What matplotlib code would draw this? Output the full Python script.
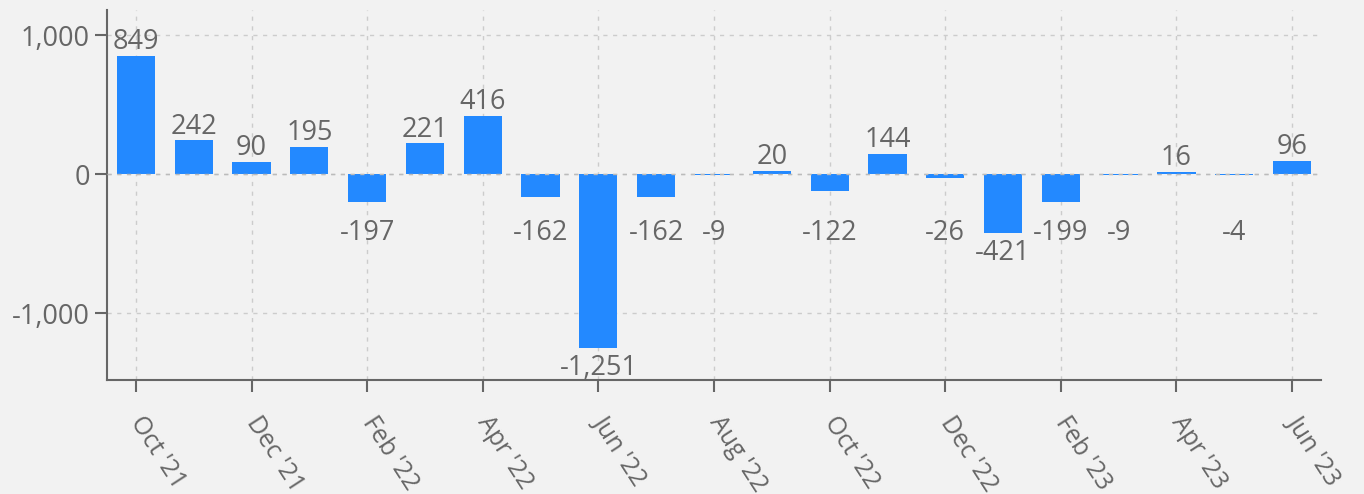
import matplotlib
matplotlib.use("Agg")
from matplotlib import pyplot as plt

months = ["Oct '21", "Nov '21", "Dec '21", "Jan '22", "Feb '22", "Mar '22", "Apr '22",
          "May '22", "Jun '22", "Jul '22", "Aug '22", "Sep '22", "Oct '22", "Nov '22",
          "Dec '22", "Jan '23", "Feb '23", "Mar '23", "Apr '23", "May '23", "Jun '23"]
values = [849, 242, 90, 195, -197, 221, 416, -162, -1251, -162, -9, 20, -122, 144,
          -26, -421, -199, -9, 16, -4, 96]
yticks = [-1000, 0, 1000]

bg = "#f2f2f2"
txt = "#666666"
blue = "#2389ff"

plt.rcParams['font.family'] = ['Open Sans', 'DejaVu Sans']

fig = plt.figure(figsize=(13.64, 4.94), dpi=100, facecolor=bg)
ax = fig.add_axes([107 / 1364, 1 - 380 / 494, (1321 - 107) / 1364, 370 / 494])
ax.set_facecolor(bg)

x = list(range(len(values)))
ax.bar(x, values, width=0.66, color=blue, zorder=2)

# value labels
for i, v in enumerate(values):
    lab = f"{v:,}"
    if v >= 0:
        ax.annotate(lab, (i, v), xytext=(0, 10), textcoords="offset points",
                    ha="center", va="center", fontsize=19.5, color=txt, zorder=4)
    else:
        ax.annotate(lab, (i, min(v, -280)), xytext=(0, -14.3), textcoords="offset points",
                    ha="center", va="center", fontsize=19.5, color=txt, zorder=4)

ax.set_xlim(-0.5, 20.5)
ax.set_ylim(-1480, 1180)

ax.set_yticks(yticks)
ax.set_yticklabels([f"{t:,}" for t in yticks])
ax.set_xticks(x[::2])
ax.set_xticklabels(months[::2], rotation=-57, ha="left", va="center",
                   rotation_mode="anchor")

ax.tick_params(axis="both", colors=txt, labelcolor=txt, labelsize=19.5,
               length=8.5, width=1.5)
ax.tick_params(axis="x", pad=19, labelsize=18)
ax.tick_params(axis="y", pad=4)

ax.grid(True, color="#cccccc", linestyle=(0, (3, 4)), linewidth=1, zorder=0)
ax.set_axisbelow(True)
ax.axhline(0, color="#bbbbbb", linestyle=(0, (3, 4)), linewidth=1, zorder=3)

for s in ["top", "right"]:
    ax.spines[s].set_visible(False)
for s in ["left", "bottom"]:
    ax.spines[s].set_color(txt)
    ax.spines[s].set_linewidth(1.5)

plt.savefig("out.png", dpi=100, facecolor=bg)
